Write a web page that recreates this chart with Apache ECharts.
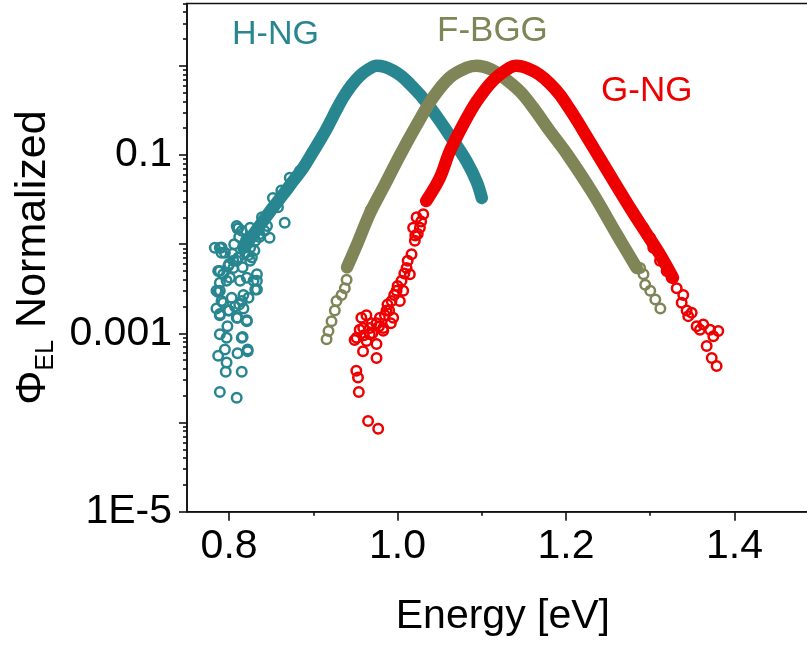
<!DOCTYPE html>
<html>
<head>
<meta charset="utf-8">
<script src="https://cdn.jsdelivr.net/npm/echarts@6/dist/echarts.min.js"></script>
<style>
  html, body { margin: 0; padding: 0; background: #fff; overflow: hidden; }
  #chart { width: 830px; height: 647px; }
</style>
</head>
<body>
<div id="chart"></div>
<script>
// ---------- data ----------
const sampleNames = ['H-NG', 'F-BGG', 'G-NG'];
const sampleColors = ['#288690', '#7F8556', '#EE0000'];

// dense, continuous part of each spectrum [Energy eV, normalized Φ_EL]
const hngBand = [[0.817,0.0091],[0.829,0.0129],[0.840,0.018],[0.852,0.0257],[0.864,0.036],[0.876,0.051],[0.888,0.072],[0.900,0.11],[0.912,0.17],[0.920,0.235],[0.928,0.33],[0.936,0.45],[0.945,0.60],[0.955,0.77],[0.965,0.91],[0.975,1.0],[0.985,0.97],[0.995,0.88],[1.005,0.76],[1.015,0.62],[1.027,0.47],[1.042,0.31],[1.063,0.16],[1.082,0.085],[1.094,0.05],[1.100,0.033]];
const fbggBand = [[0.940,0.0055],[0.952,0.010],[0.967,0.022],[0.983,0.043],[1.003,0.10],[1.023,0.22],[1.042,0.44],[1.062,0.74],[1.082,0.95],[1.094,1.0],[1.110,0.92],[1.125,0.75],[1.145,0.52],[1.161,0.34],[1.180,0.19],[1.201,0.103],[1.232,0.037],[1.260,0.013],[1.284,0.0054]];
const gngBand = [[1.034,0.0305],[1.050,0.055],[1.062,0.11],[1.078,0.22],[1.094,0.40],[1.113,0.68],[1.133,0.95],[1.141,1.0],[1.155,0.93],[1.168,0.80],[1.181,0.63],[1.193,0.47],[1.205,0.32],[1.220,0.19],[1.252,0.06],[1.279,0.023],[1.296,0.013],[1.311,0.0078],[1.327,0.0042]];

// noisy / sparse points drawn as open circles
const hngDots = [[0.789,0.0091],[0.791,0.0092],[0.795,0.008],[0.804,0.0078],[0.809,0.016],[0.810,0.015],[0.811,0.0152],[0.815,0.0141],[0.825,0.0153],[0.839,0.020],[0.852,0.033],[0.866,0.0174],[0.872,0.0557],[0.789,0.005],[0.797,0.0039],[0.789,0.003],[0.785,0.003],[0.829,0.0039],[0.833,0.0046],[0.833,0.0031],[0.817,0.0027],[0.805,0.0054],[0.825,0.0065],[0.800,0.006],[0.806,0.0100],[0.812,0.012],[0.820,0.011],[0.823,0.0075],[0.816,0.0055],[0.809,0.0065],[0.830,0.0085],[0.836,0.012],[0.845,0.016],[0.858,0.026],[0.862,0.040],[0.884,0.066],
  [0.783,0.0091],[0.791,0.0080],[0.787,0.0050],[0.793,0.0046],[0.799,0.0057],[0.805,0.0065],[0.811,0.0071],[0.819,0.0080],[0.825,0.0091],[0.831,0.0109],[0.836,0.0129],[0.842,0.0141],[0.848,0.0118],[0.827,0.0071],[0.833,0.0039],[0.831,0.0031],[0.821,0.0042],[0.813,0.0039],[0.801,0.0042],[0.789,0.0037],[0.787,0.0029],[0.791,0.0023],[0.785,0.0019],[0.789,0.0016],[0.799,0.0018],[0.807,0.0020],[0.817,0.0019],[0.821,0.00137],[0.809,0.0015],[0.815,0.0023],[0.823,0.0025],
  [0.789,0.00165],[0.798,0.0012],[0.810,0.0015],[0.821,0.0014],[0.789,0.00098],[0.797,0.00089],[0.816,0.00091],[0.795,0.00066],[0.787,0.00056],[0.810,0.0006],[0.822,0.00063],[0.797,0.00047],[0.796,0.00037],[0.815,0.00037],[0.789,0.00022],[0.809,0.00019],[0.815,0.00089],[0.822,0.00066],[0.793,0.0022],[0.803,0.0025],[0.812,0.0021],[0.800,0.0018]];
const fbggDots = [[0.9157,0.00086],[0.918,0.00106],[0.9216,0.00137],[0.9255,0.0018],[0.9275,0.0023],[0.9335,0.0027],[0.9374,0.0032],[0.9395,0.0040],[0.968,0.024],[1.288,0.0054],[1.292,0.0046],[1.294,0.0035],[1.300,0.003],[1.306,0.0024],[1.312,0.0019]];
const gngDots = [[1.0305,0.0217],[1.0265,0.0153],[1.0205,0.0109],[1.0166,0.0077],[1.0107,0.0054],[1.0047,0.0039],[0.9988,0.003],[0.9929,0.0023],[0.9869,0.0018],[0.979,0.0015],[0.9691,0.0013],[0.9592,0.00115],[0.9513,0.00089],[0.9632,0.00082],[0.975,0.00076],[0.9948,0.0015],[0.983,0.00115],[1.0146,0.0046],[1.0067,0.003],[1.0027,0.0023],[1.0185,0.0153],[1.0226,0.02],
  [1.028,0.018],[1.024,0.013],[1.021,0.0125],[1.012,0.0065],[1.008,0.0047],[1.000,0.0034],[0.996,0.0027],[0.988,0.0021],[0.985,0.0016],[0.975,0.0013],[0.963,0.0016],[0.970,0.0010],[0.960,0.00095],[0.955,0.0011],[0.978,0.0012],[0.992,0.0013],
  [0.957,0.0015],[0.967,0.00115],[0.949,0.00084],[0.959,0.00063],[0.975,0.00053],[0.951,0.00038],[0.953,0.00032],[0.954,0.00022],[0.965,0.000104],[0.977,0.0000851],[0.983,0.00107],[0.990,0.0018],[0.967,0.00098],
  [1.2917,0.0153],[1.2997,0.0118],[1.3036,0.0091],[1.3116,0.0065],[1.3195,0.005],[1.3254,0.0042],[1.3314,0.0032],[1.3392,0.0027],[1.3432,0.0018],[1.3492,0.0017],[1.3551,0.0012],[1.363,0.00126],[1.371,0.0011],[1.3808,0.00106],[1.3749,0.00093],[1.367,0.00072],[1.373,0.00053],[1.3788,0.00043],[1.3451,0.00156],[1.3373,0.0022],[1.359,0.0011]];

// axes
const xMin = 0.75, xMax = 1.5;
const xMajorTicks = [0.8, 1.0, 1.2, 1.4];
const xTickLabels = ['0.8', '1.0', '1.2', '1.4'];
const xMinorTicks = [0.9, 1.1, 1.3];
const yMin = 1e-5, yMax = 5;
const yDecades = [1e-5, 1e-4, 1e-3, 1e-2, 1e-1, 1];
const yLabelValues = [1e-5, 1e-3, 0.1];
const yTickLabels = ['1E-5', '0.001', '0.1'];
const xTitle = 'Energy [eV]';

// ---------- chart ----------
const FONT = "'Liberation Sans', Arial, Helvetica, sans-serif";
const lg = v => Math.log10(v);
const yMinorTicks = [];
yDecades.forEach(d => { for (let k = 2; k <= 9; k++) { if (k * d <= yMax) yMinorTicks.push(lg(k * d)); } });

const bands = [hngBand, fbggBand, gngBand];
const dots = [hngDots, fbggDots, gngDots];
const series = [];
sampleNames.forEach((name, i) => {
  series.push({
    name: name, type: 'line', xAxisIndex: 0, yAxisIndex: 0,
    data: bands[i], showSymbol: false, symbol: 'none', smooth: 0.35,
    lineStyle: { color: sampleColors[i], width: 12.5, cap: 'round', join: 'round' },
    silent: true, z: 2 + i * 2
  });
  series.push({
    name: name, type: 'scatter', xAxisIndex: 0, yAxisIndex: 0,
    data: dots[i], symbol: 'circle', symbolSize: 9.5,
    itemStyle: { color: 'rgba(0,0,0,0)', borderColor: sampleColors[i], borderWidth: 2.5, opacity: 1 },
    silent: true, z: 3 + i * 2
  });
});

const axisLineStyle = { color: '#111', width: 1.6 };
const chart = echarts.init(document.getElementById('chart'), null, { renderer: 'canvas' });
chart.setOption({
  animation: false,
  backgroundColor: '#fff',
  grid: { left: 187, top: 3.5, right: 11.3, bottom: 135.3, show: true, borderColor: '#111', borderWidth: 1.6, backgroundColor: 'transparent' },
  xAxis: [
    {
      type: 'value', min: xMin, max: xMax, position: 'bottom',
      axisLine: { show: true, onZero: false, lineStyle: axisLineStyle },
      axisTick: { show: true, customValues: xMajorTicks, length: 9, lineStyle: axisLineStyle },
      axisLabel: {
        customValues: xMajorTicks, margin: 14, fontSize: 41, color: '#000', fontFamily: FONT,
        formatter: v => { const i = xMajorTicks.findIndex(t => Math.abs(t - v) < 1e-9); return i >= 0 ? xTickLabels[i] : ''; }
      },
      splitLine: { show: false },
      name: xTitle, nameLocation: 'middle', nameGap: 84,
      nameTextStyle: { fontSize: 41, color: '#000', fontFamily: FONT }
    },
    {
      type: 'value', min: xMin, max: xMax, position: 'bottom',
      axisLine: { show: false, onZero: false },
      axisTick: { show: true, customValues: xMinorTicks, length: 4, lineStyle: axisLineStyle },
      axisLabel: { show: false }, splitLine: { show: false }
    }
  ],
  yAxis: [
    {
      type: 'log', logBase: 10, min: yMin, max: yMax, position: 'left',
      axisLine: { show: true, onZero: false, lineStyle: axisLineStyle },
      axisTick: { show: false }, axisLabel: { show: false }, splitLine: { show: false }, minorTick: { show: false }
    },
    {
      type: 'value', min: lg(yMin), max: lg(yMax), position: 'left',
      axisLine: { show: false, onZero: false },
      axisTick: { show: true, customValues: yDecades.map(lg), length: 8, lineStyle: axisLineStyle },
      axisLabel: {
        customValues: yLabelValues.map(lg), margin: 15, fontSize: 41, color: '#000', fontFamily: FONT,
        formatter: v => { const i = yLabelValues.findIndex(t => Math.abs(lg(t) - v) < 1e-6); return i >= 0 ? yTickLabels[i] : ''; }
      },
      splitLine: { show: false },
      name: '{phi|Φ}{sub|EL}{n| Normalized}', nameLocation: 'middle', nameGap: 128,
      nameTextStyle: {
        fontFamily: FONT, color: '#000',
        rich: {
          phi: { fontSize: 43, lineHeight: 50, fontFamily: FONT, color: '#000' },
          sub: { fontSize: 25, lineHeight: 18, verticalAlign: 'bottom', fontFamily: FONT, color: '#000' },
          n: { fontSize: 43, lineHeight: 50, fontFamily: FONT, color: '#000' }
        }
      }
    },
    {
      type: 'value', min: lg(yMin), max: lg(yMax), position: 'left',
      axisLine: { show: false, onZero: false },
      axisTick: { show: true, customValues: yMinorTicks, length: 4, lineStyle: axisLineStyle },
      axisLabel: { show: false }, splitLine: { show: false }
    }
  ],
  series: series,
  graphic: [
    { type: 'text', left: 232, top: 18, z: 100, style: { text: sampleNames[0], font: '34px ' + FONT, fill: sampleColors[0] } },
    { type: 'text', left: 437, top: 14, z: 100, style: { text: sampleNames[1], font: '35px ' + FONT, fill: sampleColors[1] } },
    { type: 'text', left: 601, top: 74, z: 100, style: { text: sampleNames[2], font: '35px ' + FONT, fill: sampleColors[2] } }
  ]
});
</script>
</body>
</html>
